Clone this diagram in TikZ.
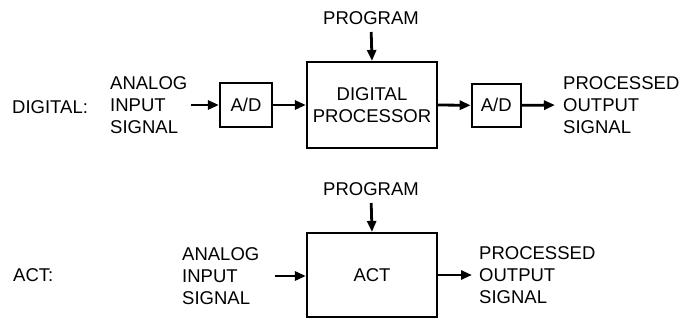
\documentclass[tikz,border=0pt]{standalone}
\usepackage{fontspec}
\setmainfont{Liberation Sans}
\usetikzlibrary{arrows.meta}
\begin{document}
\begin{tikzpicture}[x=1pt,y=-1pt,
  lbl/.style={inner sep=0pt,font=\fontsize{18.5}{22}\selectfont,align=left},
  blk/.style={draw,line width=2.2pt,minimum width=#1,inner sep=0pt,font=\fontsize{18.5}{22.5}\selectfont,align=center},
  flow/.style={line width=2.8pt,-{Triangle[length=11pt,width=9pt]}}]
\useasboundingbox (0,0) rectangle (688,322);
% top row
\node[lbl,anchor=west] (dig) at (12,107) {DIGITAL:};
\node[lbl,anchor=west] (in1) at (110,105) {ANALOG\\INPUT\\SIGNAL};
\node[blk=52pt,minimum height=44pt] (ad1) at (246,105) {A/D};
\node[blk=130pt,minimum height=86pt] (dp) at (372,105) {DIGITAL\\PROCESSOR};
\node[blk=49pt,minimum height=43pt] (ad2) at (496.3,105.3) {A/D};
\node[lbl,anchor=west] (out1) at (563,105) {PROCESSED\\OUTPUT\\SIGNAL};
\node[lbl,anchor=south] (prog1) at (371,25) {PROGRAM};
\draw[flow,shorten <=3pt] (in1.east) -- (ad1.west);
\draw[flow] (ad1.east) -- (dp.west);
\draw[flow] (dp.east) -- (ad2.west);
\draw[flow,shorten >=8pt] (ad2.east) -- (out1.west);
\draw[flow,shorten <=7pt] (prog1.south) -- (dp.north);
% bottom row
\node[lbl,anchor=west] (actl) at (13,275) {ACT:};
\node[lbl,anchor=west] (in2) at (182,276) {ANALOG\\INPUT\\SIGNAL};
\node[blk=130pt,minimum height=84pt] (act) at (372,275) {ACT};
\node[lbl,anchor=west] (out2) at (479,275) {PROCESSED\\OUTPUT\\SIGNAL};
\node[lbl,anchor=south] (prog2) at (371,196) {PROGRAM};
\draw[flow,shorten <=15pt] (in2.east) -- (act.west |- in2.east);
\draw[flow,shorten >=7pt] (act.east |- out2.west) -- (out2.west);
\draw[flow,shorten <=7pt] (prog2.south) -- (act.north);
\end{tikzpicture}
\end{document}
